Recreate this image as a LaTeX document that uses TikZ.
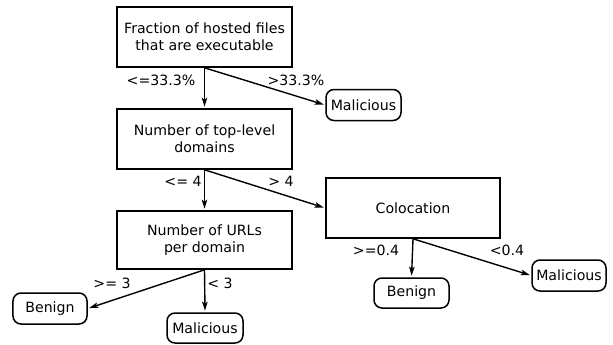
\documentclass[tikz,border=0pt]{standalone}
\usepackage{fontspec}
\setmainfont{DejaVu Sans}
\usetikzlibrary{arrows.meta}
\begin{document}
\begin{tikzpicture}[x=1bp,y=-1bp,
  every node/.style={font=\fontsize{14.2}{17.3}\selectfont},
  decision/.style={draw, line width=1.6bp, inner sep=0pt, align=center, minimum width=175bp, minimum height=60bp},
  leaf/.style={draw, line width=1.5bp, rounded corners=8bp, inner sep=0pt, minimum height=31bp},
  lbl/.style={inner sep=0pt},
  arr/.style={line width=1.4bp, shorten >=1.5bp, -{Stealth[length=9bp,width=5.5bp,inset=2bp]}}
]
\useasboundingbox (0,0) rectangle (613,344);
\node[decision] (f) at (204.5,37) {Fraction of hosted files\\that are executable};
\node[decision] (t) at (204.5,139) {Number of top-level\\domains};
\node[decision, minimum height=58bp] (u) at (204.5,240) {Number of URLs\\per domain};
\node[decision, minimum width=174bp] (c) at (413,208) {Colocation};
\node[leaf, minimum width=75bp] (m1) at (363.5,105) {Malicious};
\node[leaf, minimum width=74bp] (b1) at (50,308.5) {Benign};
\node[leaf, minimum width=76bp, minimum height=30bp] (m2) at (205,328) {Malicious};
\node[leaf, minimum width=75bp, minimum height=30bp] (b2) at (411.5,293) {Benign};
\node[leaf, minimum width=74bp] (m3) at (569,275.5) {Malicious};
\draw[arr] (f.south) -- (t.north);
\draw[arr] (f.south) -- (m1.west);
\draw[arr] (t.south) -- (u.north);
\draw[arr] (t.south) -- (c.west);
\draw[arr] (u.south) -- (b1.east);
\draw[arr] (u.south) -- (m2.north);
\draw[arr] (c.south) -- (b2.north);
\draw[arr] (c.south) -- (m3.west);
\node[lbl] (l1) at (161,80) {<=33.3\%};
\node[lbl] (l2) at (296,80) {>33.3\%};
\node[lbl] (l3) at (183,181) {<= 4};
\node[lbl] (l4) at (281,181) {> 4};
\node[lbl] (l5) at (112,283) {>= 3};
\node[lbl] (l6) at (220,283) {< 3};
\node[lbl] (l7) at (376,250) {>=0.4};
\node[lbl] (l8) at (507,250) {<0.4};
\end{tikzpicture}
\end{document}
